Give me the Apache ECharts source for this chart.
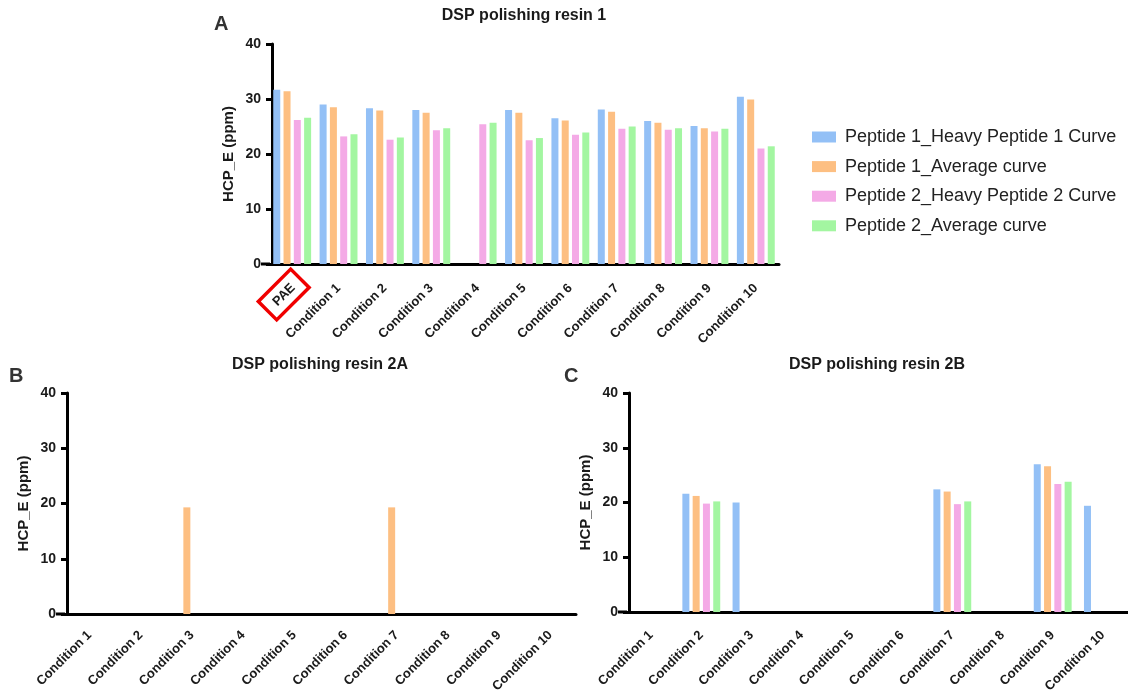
<!DOCTYPE html>
<html>
<head>
<meta charset="utf-8">
<script src="https://cdn.jsdelivr.net/npm/echarts@6/dist/echarts.min.js"></script>
<style>
  html, body { margin: 0; padding: 0; background: #fff; }
  #chart { width: 1128px; height: 698px; }
</style>
</head>
<body>
<div id="chart"></div>
<script>
// Categories
const resin1Categories = ['PAE', 'Condition 1', 'Condition 2', 'Condition 3', 'Condition 4', 'Condition 5',
  'Condition 6', 'Condition 7', 'Condition 8', 'Condition 9', 'Condition 10'];
const resin2Categories = ['Condition 1', 'Condition 2', 'Condition 3', 'Condition 4', 'Condition 5',
  'Condition 6', 'Condition 7', 'Condition 8', 'Condition 9', 'Condition 10'];

// Series names
const seriesNames = ['Peptide 1_Heavy Peptide 1 Curve', 'Peptide 1_Average curve',
  'Peptide 2_Heavy Peptide 2 Curve', 'Peptide 2_Average curve'];

// DSP polishing resin 1 (HCP_E, ppm)
const resin1P1Heavy = [31.7, 29.0, 28.3, 28.0, null, 28.0, 26.5, 28.1, 26.0, 25.1, 30.4];
const resin1P1Avg   = [31.4, 28.5, 27.9, 27.5, null, 27.5, 26.1, 27.7, 25.7, 24.7, 29.9];
const resin1P2Heavy = [26.2, 23.2, 22.6, 24.3, 25.4, 22.5, 23.5, 24.6, 24.4, 24.1, 21.0];
const resin1P2Avg   = [26.6, 23.6, 23.0, 24.7, 25.7, 22.9, 23.9, 25.0, 24.7, 24.6, 21.4];

// DSP polishing resin 2A
const resin2AP1Heavy = [null, null, null, null, null, null, null, null, null, null];
const resin2AP1Avg   = [null, null, 19.3, null, null, null, 19.3, null, null, null];
const resin2AP2Heavy = [null, null, null, null, null, null, null, null, null, null];
const resin2AP2Avg   = [null, null, null, null, null, null, null, null, null, null];

// DSP polishing resin 2B
const resin2BP1Heavy = [null, 21.6, 20.0, null, null, null, 22.4, null, 27.0, 19.4];
const resin2BP1Avg   = [null, 21.2, null, null, null, null, 22.0, null, 26.6, null];
const resin2BP2Heavy = [null, 19.8, null, null, null, null, 19.7, null, 23.4, null];
const resin2BP2Avg   = [null, 20.2, null, null, null, null, 20.2, null, 23.8, null];

// Y axis ticks
const yTicks = [0, 10, 20, 30, 40];

const colors = ['#93c0f6', '#fdbf82', '#f4aae6', '#a3f6a1'];
const FONT = '"Liberation Sans", Arial, sans-serif';
const INK = '#1a1a1a';

// The reference condition (PAE) gets a red outline box around its label
const highlightCategory = 'PAE';
const categoryItems = cats => cats.map(c => c === highlightCategory
  ? { value: c, textStyle: { align: 'center' } }
  : c);

const panels = [
  { cats: categoryItems(resin1Categories), data: [resin1P1Heavy, resin1P1Avg, resin1P2Heavy, resin1P2Avg],
    grid: { left: 269, top: 44, width: 510, height: 220 }, title: 'DSP polishing resin 1', letter: 'A',
    letterPos: [222, 25], labelMargin: 22 },
  { cats: resin2Categories, data: [resin2AP1Heavy, resin2AP1Avg, resin2AP2Heavy, resin2AP2Avg],
    grid: { left: 64, top: 393, width: 512, height: 221 }, title: 'DSP polishing resin 2A', letter: 'B',
    letterPos: [17, 377], labelMargin: 19 },
  { cats: resin2Categories, data: [resin2BP1Heavy, resin2BP1Avg, resin2BP2Heavy, resin2BP2Avg],
    grid: { left: 626, top: 393, width: 502, height: 219 }, title: 'DSP polishing resin 2B', letter: 'C',
    letterPos: [572, 377], labelMargin: 21 }
];

const grids = [], xAxes = [], yAxes = [], series = [], graphics = [];

panels.forEach((p, i) => {
  grids.push(Object.assign({ containLabel: false }, p.grid));
  xAxes.push({
    type: 'category', gridIndex: i, data: p.cats,
    axisLine: { lineStyle: { color: '#000', width: 3 } },
    axisTick: { alignWithLabel: true, length: 6, lineStyle: { color: '#000', width: 3 } },
    axisLabel: {
      rotate: 45, interval: 0, margin: p.labelMargin, color: INK, fontFamily: FONT, fontWeight: 'bold', fontSize: 13,
      formatter: v => v === highlightCategory ? '{box|' + v + '}{sp| }' : v,
      rich: {
        box: { color: INK, fontFamily: FONT, fontWeight: 'bold', fontSize: 13,
               borderColor: '#f00000', borderWidth: 3.5, padding: [7, 10, 6, 10] },
        sp: { width: 24, fontSize: 13 }
      }
    }
  });
  yAxes.push({
    type: 'value', gridIndex: i, min: yTicks[0], max: yTicks[yTicks.length - 1], interval: yTicks[1] - yTicks[0],
    offset: -3,
    name: 'HCP_E (ppm)', nameLocation: 'middle', nameGap: 36,
    nameTextStyle: { color: INK, fontFamily: FONT, fontWeight: 'bold', fontSize: 15 },
    axisLine: { show: true, lineStyle: { color: '#000', width: 3 } },
    axisTick: { show: true, length: 6, lineStyle: { color: '#000', width: 3 } },
    axisLabel: { color: INK, fontFamily: FONT, fontWeight: 'bold', fontSize: 14, margin: 11 },
    splitLine: { show: false }
  });
  p.data.forEach((arr, s) => {
    series.push({
      type: 'bar', name: seriesNames[s], xAxisIndex: i, yAxisIndex: i, data: arr,
      barWidth: 7, barGap: '47%', itemStyle: { color: colors[s] }, silent: true
    });
  });
  graphics.push({
    type: 'text', left: p.letterPos[0] - 8, top: p.letterPos[1] - 11,
    style: { text: p.letter, fill: '#333', font: 'bold 20px ' + FONT }
  });
  graphics.push({
    type: 'text', x: p.grid.left + p.grid.width / 2, y: p.grid.top - 28,
    style: { text: p.title, fill: INK, font: 'bold 16px ' + FONT, textAlign: 'center', textVerticalAlign: 'middle' }
  });
});

const chart = echarts.init(document.getElementById('chart'), null, { renderer: 'canvas' });
chart.setOption({
  animation: false,
  backgroundColor: '#fff',
  grid: grids, xAxis: xAxes, yAxis: yAxes, series: series,
  legend: {
    orient: 'vertical', left: 807, top: 123, itemWidth: 24, itemHeight: 11, itemGap: 11.6,
    icon: 'rect', data: seriesNames, selectedMode: false,
    textStyle: { color: '#222', fontFamily: FONT, fontSize: 18, padding: [0, 0, 0, 4] }
  },
  graphic: graphics
});

// Short x-axis stub extending left of each y axis, drawn at the zero line
const stubs = panels.map((p, i) => {
  const y0 = chart.convertToPixel({ yAxisIndex: i }, 0);
  return { type: 'line', shape: { x1: p.grid.left - 8, y1: y0, x2: p.grid.left + 1, y2: y0 },
           style: { stroke: '#000', lineWidth: 3 } };
});
chart.setOption({ graphic: graphics.concat(stubs) });
</script>
</body>
</html>
